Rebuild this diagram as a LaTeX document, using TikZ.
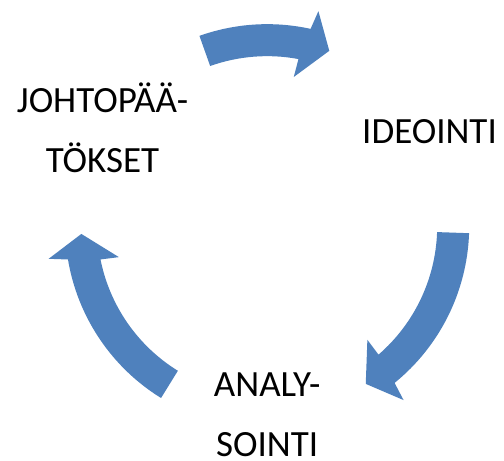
\documentclass[tikz,border=0pt]{standalone}
\usepackage{fontspec}
\setmainfont{Carlito}
\definecolor{arrowblue}{RGB}{79,129,189}
\tikzset{
  cyclearrow/.style={fill=arrowblue, draw=none},
  steplabel/.style={anchor=base, align=center, inner sep=0pt, text=black,
    font=\fontsize{37}{60}\selectfont}
}
\begin{document}
\begin{tikzpicture}[x=1pt,y=1pt]
\useasboundingbox (-267.2,-234.85) rectangle (236.8,226.15);
\foreach \tl/\tp in {109.6/70.5, -2/-58, 238.3/182.4}{
  \fill[cyclearrow] (\tl:202) arc[start angle=\tl, end angle=\tp+7.1, radius=202]
    -- ({\tp+6.1}:221) -- (\tp:186) -- ({\tp+9.4}:151.5) -- ({\tp+8.9}:170)
    arc[start angle=\tp+8.9, end angle=\tl, radius=170] -- cycle;
}
\node[steplabel] (ideointi) at (162.3,83.15) {IDEOINTI};
\node[steplabel] (johto) at (-164.7,54.15) {JOHTOPÄÄ-\\TÖKSET};
\node[steplabel] (analy) at (0,-230.15) {ANALY-\\SOINTI};
\end{tikzpicture}
\end{document}
